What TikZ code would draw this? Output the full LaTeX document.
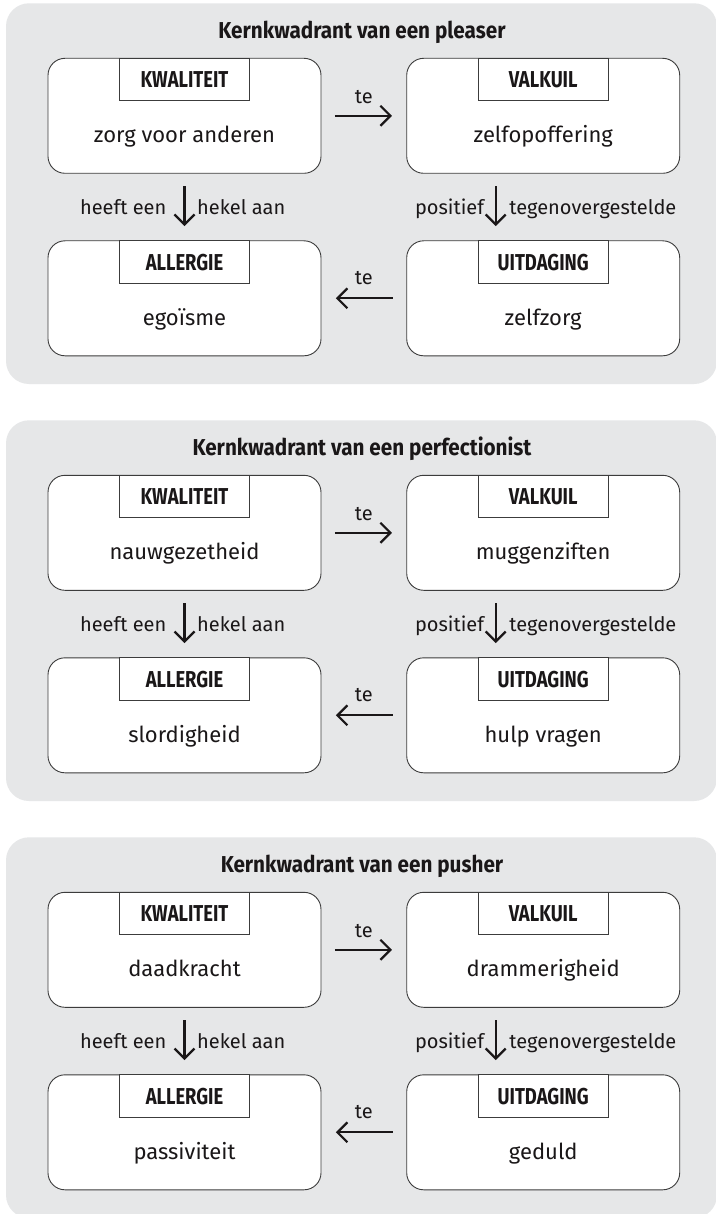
\documentclass[tikz,border=0pt]{standalone}
\usepackage{fontspec}
\setmainfont{Fira Sans}
\newfontfamily\titlefont{Fira Sans}[FakeStretch=0.9]
\newfontfamily\tagfont{Fira Sans}[FakeStretch=0.8]
\usetikzlibrary{arrows.meta,calc}
\definecolor{panelgray}{HTML}{E6E7E8}
\definecolor{ink}{HTML}{1A1718}
\definecolor{edge}{HTML}{3C3C3C}
\tikzset{
  panel/.style={fill=panelgray, draw=none, rounded corners=23pt},
  quad/.style={draw=edge, line width=0.9pt, fill=white, rounded corners=17pt,
    minimum width=273pt, minimum height=115pt, inner sep=0pt},
  tagbox/.style={draw=edge, line width=0.9pt, fill=white, minimum width=130.5pt,
    minimum height=42.5pt, inner sep=0pt, anchor=north, text=ink,
    font=\tagfont\bfseries\fontsize{23}{23}\selectfont},
  maintext/.style={anchor=base, inner sep=0pt, text=ink, font=\fontsize{22}{26}\selectfont},
  titletext/.style={anchor=base, inner sep=0pt, text=ink, font=\titlefont\bfseries\fontsize{23}{26}\selectfont},
  lbl/.style={inner sep=0pt, text=ink, font=\fontsize{20}{24}\selectfont},
  arr/.style={draw=ink, line width=2.2pt, -{Straight Barb[length=10pt,width=20pt,line width=2.2pt]}},
}
\newcommand\kwpanel[7]{%
\begin{scope}[shift={(0,#2)}]
  \fill[panel] (6,3.3) rectangle (717,384);
  \node[titletext] (#1title) at (362,38.3) {#3};
  \node[quad] (#1q) at (184.5,115.8) {};
  \node[quad] (#1v) at (543.2,115.8) {};
  \node[quad] (#1a) at (184.5,298.3) {};
  \node[quad] (#1u) at (543.2,298.3) {};
  \node[tagbox] (#1qtag) at (#1q.north) {KWALITEIT};
  \node[tagbox] (#1vtag) at (#1v.north) {VALKUIL};
  \node[tagbox] (#1atag) at (#1a.north) {ALLERGIE};
  \node[tagbox] (#1utag) at (#1u.north) {UITDAGING};
  \node[maintext] (#1qtxt) at ([yshift=-85pt]#1q.north) {#4};
  \node[maintext] (#1vtxt) at ([yshift=-85pt]#1v.north) {#5};
  \node[maintext] (#1atxt) at ([yshift=-85pt]#1a.north) {#6};
  \node[maintext] (#1utxt) at ([yshift=-85pt]#1u.north) {#7};
  % horizontal arrows
  \draw[arr, shorten <=13.4pt, shorten >=14.3pt] (#1q.east) -- (#1v.west);
  \node[lbl, anchor=base] (#1te1) at ([yshift=12pt]$(#1q.east)!0.5!(#1v.west)$) {te};
  \draw[arr, shorten <=13.7pt, shorten >=14.4pt] (#1u.west) -- (#1a.east);
  \node[lbl, anchor=base] (#1te2) at ([yshift=14pt]$(#1u.west)!0.5!(#1a.east)$) {te};
  % vertical arrows
  \draw[arr, shorten <=12.7pt, shorten >=14.3pt] (#1q.south) -- (#1a.north);
  \coordinate (#1lm) at ($(#1q.south)!0.5!(#1a.north)$);
  \node[lbl, anchor=base east] (#1l1) at ([xshift=-18pt,yshift=-7pt]#1lm) {heeft een};
  \node[lbl, anchor=base west] (#1l2) at ([xshift=12.5pt,yshift=-7pt]#1lm) {hekel aan};
  \coordinate (#1rs) at ([xshift=-47.5pt]#1v.south);
  \coordinate (#1re) at ([xshift=-47.5pt]#1u.north);
  \draw[arr, shorten <=12.7pt, shorten >=14.3pt] (#1rs) -- (#1re);
  \coordinate (#1rm) at ($(#1rs)!0.5!(#1re)$);
  \node[lbl, anchor=base east] (#1r1) at ([xshift=-11.5pt,yshift=-7pt]#1rm) {positief};
  \node[lbl, anchor=base west] (#1r2) at ([xshift=13.5pt,yshift=-7pt]#1rm) {tegenovergestelde};
\end{scope}}
\begin{document}
\begin{tikzpicture}[x=1pt,y=-1pt]
  \useasboundingbox (0,0) rectangle (715,1214);
  \fill[white] (0,0) rectangle (715,1214);
  \kwpanel{p1}{0}{Kernkwadrant van een pleaser}{zorg voor anderen}{zelfopoffering}{egoïsme}{zelfzorg}
  \kwpanel{p2}{417}{Kernkwadrant van een perfectionist}{nauwgezetheid}{muggenziften}{slordigheid}{hulp vragen}
  \kwpanel{p3}{834}{Kernkwadrant van een pusher}{daadkracht}{drammerigheid}{passiviteit}{geduld}
\end{tikzpicture}
\end{document}
